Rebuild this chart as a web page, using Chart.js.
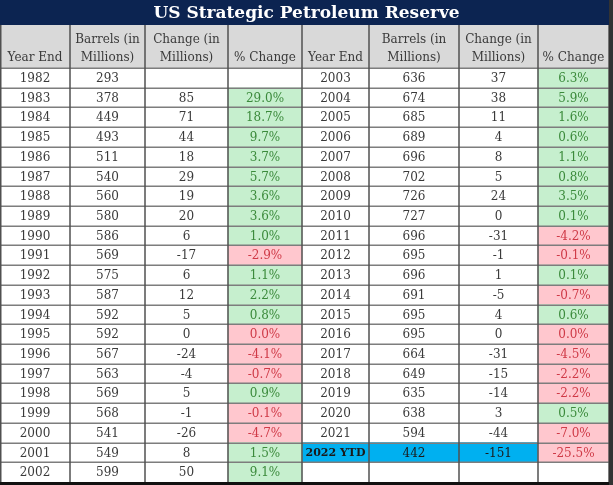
<!DOCTYPE html>
<html>
<head>
<meta charset="utf-8">
<script src="https://cdn.jsdelivr.net/npm/chart.js@4.4.1/dist/chart.umd.min.js"></script>
<style>
html,body{margin:0;padding:0;background:#fff;}
#wrap{width:613px;height:485px;position:relative;}
</style>
</head>
<body>
<div id="wrap"><canvas id="c" width="613" height="485"></canvas></div>
<script>
// ---------- DATA ----------
const TITLE = "US Strategic Petroleum Reserve";
const HEADERS = [["Year End"], ["Barrels (in", "Millions)"], ["Change (in", "Millions)"], ["% Change"]];

const leftYears   = ["1982","1983","1984","1985","1986","1987","1988","1989","1990","1991","1992","1993","1994","1995","1996","1997","1998","1999","2000","2001","2002"];
const leftBarrels = [293,378,449,493,511,540,560,580,586,569,575,587,592,592,567,563,569,568,541,549,599];
const leftChange  = [null,85,71,44,18,29,19,20,6,-17,6,12,5,0,-24,-4,5,-1,-26,8,50];
const leftPct     = [null,29.0,18.7,9.7,3.7,5.7,3.6,3.6,1.0,-2.9,1.1,2.2,0.8,0.0,-4.1,-0.7,0.9,-0.1,-4.7,1.5,9.1];

const rightYears   = ["2003","2004","2005","2006","2007","2008","2009","2010","2011","2012","2013","2014","2015","2016","2017","2018","2019","2020","2021","2022 YTD",""];
const rightBarrels = [636,674,685,689,696,702,726,727,696,695,696,691,695,695,664,649,635,638,594,442,null];
const rightChange  = [37,38,11,4,8,5,24,0,-31,-1,1,-5,4,0,-31,-15,-14,3,-44,-151,null];
const rightPct     = [6.3,5.9,1.6,0.6,1.1,0.8,3.5,0.1,-4.2,-0.1,0.1,-0.7,0.6,0.0,-4.5,-2.2,-2.2,0.5,-7.0,-25.5,null];
const highlightYear = "2022 YTD";

// ---------- LAYOUT (not data) ----------
const COL_W = [70,75,83,74,67,90,79,71];           // relative column widths
const EDGES = COL_W.reduce((a,w)=>{a.push(a[a.length-1]+w);return a;},[0]);
const TITLE_H = 25, HEADER_BOTTOM = 68;
const C = {
  navy:'#0c2451', header:'#d9d9d9', text:'#3a3a3a',
  greenBg:'#c6efce', greenTx:'#3b8a3b', redBg:'#ffc7ce', redTx:'#cf3a47',
  blue:'#00b0f0', vline:'#505050', hline:'#7d7d7d'
};
const FONT = '"DejaVu Serif", serif';

const rowLabels = leftYears.map((_,i)=>String(i));
const span = c => [EDGES[c], EDGES[c+1]];
function pctCells(arr, col, positive){
  return arr.map(v => v===null ? null : ((positive ? v>0 : v<=0) ? span(col) : null));
}
const blueCells = rightYears.map(y => y===highlightYear ? [EDGES[4], EDGES[7]] : null);

function fmtNum(v){ return v===null ? "" : String(v); }
function fmtPct(v){ return v===null ? "" : v.toFixed(1)+"%"; }

const tablePlugin = {
  id:'tablePlugin',
  beforeDraw(chart){
    const ctx = chart.ctx;
    ctx.save();
    ctx.fillStyle = '#fff';
    ctx.fillRect(0,0,chart.width,chart.height);
    ctx.restore();
  },
  afterDatasetsDraw(chart){
    const ctx = chart.ctx, xs = chart.scales.x, ys = chart.scales.y, ca = chart.chartArea;
    const X = v => xs.getPixelForValue(v);
    const n = rowLabels.length;
    const band = (ys.getPixelForValue(1) - ys.getPixelForValue(0));
    ctx.save();
    // title bar
    ctx.fillStyle = C.navy;
    ctx.fillRect(0,0,chart.width,TITLE_H);
    ctx.fillStyle = '#fff';
    ctx.font = 'bold 17px ' + FONT;
    ctx.textAlign='center'; ctx.textBaseline='middle';
    ctx.fillText(TITLE, (X(EDGES[0])+X(EDGES[8]))/2 + 2, TITLE_H/2 + 1);
    // header
    ctx.fillStyle = C.header;
    ctx.fillRect(X(EDGES[0]), TITLE_H, X(EDGES[8])-X(EDGES[0]), ca.top-TITLE_H);
    ctx.fillStyle = C.text;
    ctx.font = '12px ' + FONT;
    for(let c=0;c<8;c++){
      const h = HEADERS[c%4];
      const cx = (X(EDGES[c])+X(EDGES[c+1]))/2;
      if(h.length===1){ ctx.fillText(h[0], cx, ca.top-10); }
      else { ctx.fillText(h[0], cx, ca.top-28); ctx.fillText(h[1], cx, ca.top-10); }
    }
    // cell text
    for(let i=0;i<n;i++){
      const cy = ys.getPixelForValue(i) + 1;
      const cells = [
        [leftYears[i], 0], [fmtNum(leftBarrels[i]),1], [fmtNum(leftChange[i]),2], [fmtPct(leftPct[i]),3],
        [rightYears[i],4], [fmtNum(rightBarrels[i]),5], [fmtNum(rightChange[i]),6], [fmtPct(rightPct[i]),7]
      ];
      cells.forEach(([t,c])=>{
        if(!t) return;
        const cx = (X(EDGES[c])+X(EDGES[c+1]))/2;
        let col = C.text, f = '12px ' + FONT;
        if(c===3 && leftPct[i]!==null) col = leftPct[i]>0 ? C.greenTx : C.redTx;
        if(c===7 && rightPct[i]!==null) col = rightPct[i]>0 ? C.greenTx : C.redTx;
        if(c===4 && t===highlightYear){ f = 'bold 11px ' + FONT; col = '#1a1a1a'; }
        if((c===5||c===6) && rightYears[i]===highlightYear) col = '#1a1a1a';
        ctx.font = f; ctx.fillStyle = col;
        ctx.fillText(t, cx, cy);
      });
    }
    // horizontal lines
    ctx.strokeStyle = C.hline; ctx.lineWidth = 1.5;
    for(let i=0;i<n;i++){
      const yb = Math.round(ys.getPixelForValue(i) - band/2) + 0.25;
      ctx.beginPath(); ctx.moveTo(X(EDGES[0]), yb); ctx.lineTo(X(EDGES[8]), yb); ctx.stroke();
    }
    // vertical lines
    ctx.strokeStyle = C.vline; ctx.lineWidth = 1.5;
    for(let c=0;c<=8;c++){
      const x = Math.round(X(EDGES[c])) + (c===0?0.75:0);
      ctx.beginPath(); ctx.moveTo(x, TITLE_H); ctx.lineTo(x, ca.bottom); ctx.stroke();
    }
    // outer bottom / right border
    ctx.fillStyle = '#111';
    ctx.fillRect(0, ca.bottom, chart.width, chart.height - ca.bottom);
    ctx.fillStyle = '#333';
    ctx.fillRect(X(EDGES[8]), 0, chart.width - X(EDGES[8]), chart.height);
    ctx.restore();
  }
};

const ds = (data, color) => ({data, backgroundColor: color, grouped:false, barPercentage:1, categoryPercentage:1, borderWidth:0, borderSkipped:false});

new Chart(document.getElementById('c'), {
  type:'bar',
  data:{
    labels: rowLabels,
    datasets:[
      ds(pctCells(leftPct,3,true), C.greenBg),
      ds(pctCells(leftPct,3,false), C.redBg),
      ds(pctCells(rightPct,7,true), C.greenBg),
      ds(pctCells(rightPct,7,false), C.redBg),
      ds(blueCells, C.blue)
    ]
  },
  options:{
    indexAxis:'y',
    responsive:false,
    devicePixelRatio:1,
    animation:false,
    layout:{padding:{top:HEADER_BOTTOM, left:0, right:613-EDGES[8], bottom:3}},
    scales:{
      x:{type:'linear', min:EDGES[0], max:EDGES[8], display:false},
      y:{type:'category', display:false, offset:true}
    },
    plugins:{legend:{display:false}, tooltip:{enabled:false}, title:{display:false}}
  },
  plugins:[tablePlugin]
});
</script>
</body>
</html>
